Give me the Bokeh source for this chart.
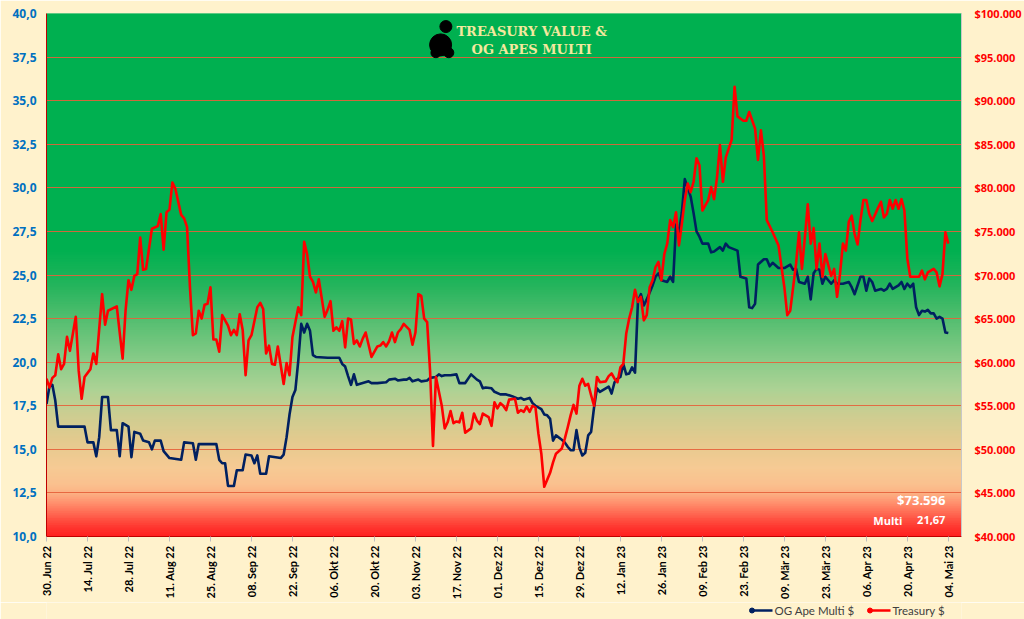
import numpy as np
import pandas as pd
from bokeh.plotting import figure
from bokeh.layouts import column
from bokeh.models import (Range1d, LinearAxis, FixedTicker, Label, ColumnDataSource)
from bokeh.embed import file_html
from bokeh.resources import INLINE
from bokeh.core.properties import value

# ---------------- data ----------------
start_date = "2022-06-30"

# OG Ape Multi (left axis), day offsets from start_date
multi_day = [0, 1, 2, 3, 4, 7, 13, 14, 16, 17, 18, 19, 21, 22, 24, 25, 26, 28, 29, 30,
             32, 33, 35, 36, 37, 39, 40, 42, 46, 47, 50, 51, 52, 58, 59, 60, 61, 62, 64, 65,
             67, 68, 70, 71, 72, 73, 75, 76, 80, 81, 82, 83, 84, 85, 86, 87, 88, 89, 90, 91,
             92, 96, 100, 101, 102, 103, 104, 105, 106, 108, 110, 111, 113, 116, 117, 119, 120, 122, 123, 124,
             125, 127, 128, 130, 131, 133, 134, 135, 136, 138, 140, 141, 143, 145, 147, 148, 149, 150, 152, 153,
             155, 157, 159, 161, 162, 163, 165, 166, 167, 169, 170, 171, 172, 173, 174, 176, 177, 178, 179, 180,
             181, 182, 183, 184, 185, 186, 187, 188, 189, 191, 192, 193, 194, 195, 196, 197, 198, 199, 200, 201,
             202, 203, 204, 205, 207, 208, 209, 210, 212, 213, 214, 215, 216, 217, 218, 219, 220, 221, 222, 223,
             224, 226, 227, 228, 230, 231, 232, 233, 236, 237, 239, 240, 241, 242, 243, 245, 246, 247, 248, 250,
             252, 254, 255, 256, 257, 259, 260, 261, 262, 263, 264, 265, 266, 268, 269, 270, 271, 272, 274, 275,
             276, 278, 279, 280, 281, 282, 283, 285, 286, 287, 288, 289, 291, 292, 293, 294, 295, 296, 297, 298,
             299, 300, 301, 302, 303, 304, 305, 306, 307, 308]
multi_value = [17.6, 18.6, 18.7, 17.8, 16.3, 16.3, 16.3, 15.4, 15.4, 14.6, 15.7, 18.0, 18.0, 16.1, 16.1, 14.6, 16.5, 16.3, 14.55, 16.0,
               15.9, 15.5, 15.4, 15.0, 15.5, 15.5, 14.9, 14.5, 14.4, 15.4, 15.35, 14.4, 15.3, 15.3, 14.4, 14.2, 14.2, 12.9, 12.9, 13.8,
               13.8, 14.7, 14.65, 14.2, 14.65, 13.6, 13.6, 14.6, 14.5, 14.7, 15.7, 17.0, 18.0, 18.4, 20.1, 22.2, 21.7, 22.2, 21.8, 20.4,
               20.3, 20.25, 20.25, 19.9, 19.75, 19.2, 18.7, 19.3, 18.7, 18.8, 18.9, 18.8, 18.8, 18.85, 19.0, 19.05, 18.95, 19.0, 19.0, 19.1,
               18.9, 19.0, 18.9, 18.95, 19.1, 19.15, 19.3, 19.2, 19.25, 19.25, 19.3, 18.8, 18.8, 19.3, 19.0, 18.9, 18.5, 18.55, 18.5, 18.3,
               18.15, 18.15, 18.05, 17.9, 17.95, 17.85, 17.95, 17.65, 17.5, 17.3, 17.0, 16.95, 16.75, 15.5, 15.8, 15.55, 15.4, 15.15, 14.95, 14.95,
               16.1, 15.1, 14.65, 14.8, 15.8, 16.0, 17.4, 18.5, 18.3, 18.5, 18.6, 18.2, 18.85, 19.05, 19.15, 19.9, 19.3, 19.35, 19.7, 19.4,
               23.5, 23.9, 23.25, 23.6, 24.4, 24.9, 25.1, 24.7, 24.6, 24.9, 24.6, 27.9, 27.4, 28.6, 30.5, 30.0, 29.5, 28.55, 27.5, 27.2,
               26.8, 26.8, 26.3, 26.35, 26.6, 26.4, 26.8, 26.6, 26.4, 24.9, 24.8, 23.15, 23.1, 23.35, 25.6, 25.9, 25.9, 25.5, 25.7, 25.4,
               25.4, 25.6, 25.3, 25.35, 24.6, 24.5, 24.9, 23.6, 25.1, 25.35, 25.3, 24.5, 24.9, 24.5, 24.7, 24.5, 24.5, 24.5, 24.6, 24.3,
               23.9, 24.9, 24.9, 24.1, 24.8, 24.6, 24.1, 24.2, 24.1, 24.2, 24.5, 24.2, 24.4, 24.6, 24.2, 24.5, 24.3, 24.5, 23.15, 22.7,
               22.95, 22.9, 23.0, 22.8, 22.8, 22.5, 22.6, 22.5, 21.7, 21.67]

# Treasury in USD (right axis), day offsets from start_date
treasury_day = [0, 1, 2, 3, 4, 5, 6, 7, 8, 10, 11, 12, 13, 15, 16, 17, 19, 20, 21, 24,
                26, 27, 28, 29, 30, 31, 32, 33, 34, 36, 38, 39, 40, 41, 42, 43, 44, 46, 47, 48,
                49, 50, 51, 52, 53, 54, 55, 56, 57, 58, 59, 60, 62, 63, 64, 65, 66, 67, 68, 69,
                70, 72, 73, 74, 75, 76, 77, 78, 79, 81, 82, 83, 84, 86, 87, 88, 89, 90, 91, 92,
                93, 95, 96, 97, 98, 99, 100, 101, 102, 103, 104, 105, 106, 107, 108, 109, 111, 113, 114, 115,
                116, 117, 118, 119, 120, 121, 122, 124, 125, 126, 127, 128, 129, 130, 131, 132, 133, 135, 136, 137,
                138, 139, 140, 141, 142, 143, 145, 146, 147, 148, 149, 151, 152, 153, 154, 155, 156, 157, 158, 160,
                161, 162, 163, 164, 165, 166, 167, 168, 169, 170, 172, 173, 174, 176, 177, 178, 179, 180, 181, 182,
                183, 184, 185, 186, 187, 188, 189, 191, 192, 193, 194, 195, 196, 197, 198, 199, 200, 201, 202, 203,
                204, 205, 206, 207, 208, 209, 210, 211, 212, 213, 214, 215, 216, 217, 218, 219, 220, 221, 222, 223,
                224, 226, 227, 228, 229, 230, 231, 232, 234, 235, 236, 238, 239, 240, 242, 243, 244, 245, 246, 248,
                250, 252, 253, 254, 256, 257, 258, 259, 260, 261, 262, 263, 264, 265, 266, 268, 269, 270, 271, 272,
                273, 274, 275, 276, 277, 278, 279, 280, 281, 282, 284, 285, 286, 287, 288, 289, 290, 291, 292, 293,
                294, 295, 297, 298, 299, 300, 301, 303, 304, 305, 306, 307, 308]
treasury_value = [58100, 57100, 58200, 58500, 60900, 59200, 59800, 62900, 61300, 65200, 59000, 55800, 58300, 59200, 61000, 59800, 67800, 64300, 65900, 66400,
                  60400, 65900, 69400, 68300, 69900, 70100, 74300, 70600, 70700, 75300, 75600, 77000, 72900, 77200, 77500, 80600, 79900, 76900, 76500, 75500,
                  68600, 63100, 63300, 65900, 65000, 66600, 66700, 68600, 62600, 62600, 61200, 65400, 64200, 63100, 63700, 63100, 65500, 63700, 58500, 62500,
                  63100, 66300, 66800, 66100, 61000, 61900, 59800, 59700, 61800, 57500, 59900, 58500, 62900, 66300, 65400, 73800, 72400, 69800, 69200, 68000,
                  69500, 65200, 66000, 67000, 63600, 64000, 63600, 64700, 61700, 65000, 64900, 62100, 62500, 61800, 62700, 63400, 60600, 61800, 61900, 62300,
                  61800, 62400, 63400, 62300, 63400, 63800, 64400, 63700, 62000, 63400, 67800, 67600, 65000, 64600, 59000, 50400, 58300, 55000, 52400, 53100,
                  54400, 53000, 53200, 53100, 54200, 51900, 52400, 54100, 53300, 52900, 54100, 53700, 52700, 55400, 54700, 55300, 55000, 54500, 55700, 55800,
                  54200, 54500, 54300, 54900, 54300, 55000, 54800, 51800, 49500, 45700, 47300, 48500, 49500, 50100, 51200, 52500, 53900, 55100, 54100, 57300,
                  58100, 57300, 57500, 56200, 55000, 58300, 57700, 57800, 58400, 58700, 58100, 57700, 59400, 59800, 63300, 65000, 66300, 68300, 66900, 67500,
                  64800, 65400, 68600, 69400, 70900, 71500, 69400, 72400, 73600, 76300, 75500, 77200, 73400, 75900, 78600, 80500, 79500, 80700, 83400, 82600,
                  77400, 78600, 80100, 78700, 81200, 84900, 80700, 83500, 85500, 91600, 88200, 87700, 87700, 88700, 86800, 83200, 86600, 83700, 76300, 74900,
                  73400, 68600, 65400, 65900, 71300, 74900, 70700, 74300, 78100, 73600, 75400, 70700, 73600, 69800, 72400, 69900, 70700, 67500, 70100, 73600,
                  72800, 76100, 76800, 74700, 73500, 76300, 78600, 78600, 77000, 76200, 77700, 78400, 76600, 77000, 78600, 77600, 78600, 77600, 78700, 77400,
                  71900, 69800, 69800, 69800, 70500, 69500, 70300, 70700, 70300, 68700, 70100, 74900, 73596]

x_tick_day = [0, 14, 28, 42, 56, 70, 84, 98, 112, 126, 140, 154, 168, 182, 196, 210,
              224, 238, 252, 266, 280, 294, 308]
x_tick_labels = ["30. Jun 22", "14. Jul 22", "28. Jul 22", "11. Aug 22", "25. Aug 22",
                 "08. Sep 22", "22. Sep 22", "06. Okt 22", "20. Okt 22", "03. Nov 22",
                 "17. Nov 22", "01. Dez 22", "15. Dez 22", "29. Dez 22", "12. Jan 23",
                 "26. Jan 23", "09. Feb 23", "23. Feb 23", "09. Mär 23", "23. Mär 23",
                 "06. Apr 23", "20. Apr 23", "04. Mai 23"]
left_ticks = [10.0, 12.5, 15.0, 17.5, 20.0, 22.5, 25.0, 27.5, 30.0, 32.5, 35.0, 37.5, 40.0]
left_tick_labels = ["10,0", "12,5", "15,0", "17,5", "20,0", "22,5", "25,0", "27,5",
                    "30,0", "32,5", "35,0", "37,5", "40,0"]
right_ticks = [40000, 45000, 50000, 55000, 60000, 65000, 70000, 75000, 80000, 85000,
               90000, 95000, 100000]
right_tick_labels = ["$40.000", "$45.000", "$50.000", "$55.000", "$60.000", "$65.000",
                     "$70.000", "$75.000", "$80.000", "$85.000", "$90.000", "$95.000",
                     "$100.000"]
series_names = ["OG Ape Multi $", "Treasury $"]
title_lines = ["TREASURY VALUE &", "OG APES MULTI"]
last_treasury_text = "$73.596"
last_multi_text = "21,67"

# ---------------- helpers ----------------
DAY_MS = 86400000.0
T0_MS = pd.Timestamp(start_date).value / 1e6


def to_ms(d):
    return T0_MS + d * DAY_MS


X_END = 312.5

CREAM = "#FFF2CC"
BLUE = "#002060"
RED = "#FF0000"

FRAME_L, FRAME_W = 46, 915

p = figure(frame_width=FRAME_W, frame_height=523, x_axis_type="datetime",
           x_range=Range1d(to_ms(0), to_ms(X_END)), y_range=Range1d(10, 40),
           output_backend="svg", toolbar_location=None,
           min_border_left=FRAME_L, min_border_right=63, min_border_top=13, min_border_bottom=64,
           background_fill_color=CREAM, border_fill_color=CREAM, outline_line_color=None)
p.extra_y_ranges = {"treasury": Range1d(40000, 100000)}

# ---------------- gradient background ----------------
stop_v = [10.0, 10.5, 11.0, 12.0, 12.5, 13.0, 14.0, 15.5, 17.0, 18.5, 20.0, 22.5, 24.5, 26.5, 40.0]
stop_rgb = [(255, 30, 30), (255, 50, 45), (255, 80, 65), (255, 145, 110), (252, 175, 130),
            (250, 192, 142), (246, 202, 148), (228, 202, 142), (205, 205, 145), (172, 210, 148),
            (140, 204, 138), (84, 190, 112), (35, 180, 92), (0, 176, 80), (0, 176, 80)]
edges = np.linspace(10, 40, 301)
mids = (edges[:-1] + edges[1:]) / 2
cols = []
for m in mids:
    r = np.interp(m, stop_v, [c[0] for c in stop_rgb])
    g = np.interp(m, stop_v, [c[1] for c in stop_rgb])
    b = np.interp(m, stop_v, [c[2] for c in stop_rgb])
    cols.append("#%02x%02x%02x" % (int(round(r)), int(round(g)), int(round(b))))
bg_src = ColumnDataSource(dict(bottom=edges[:-1], top=edges[1:], color=cols))
bg = p.quad(left=to_ms(0), right=to_ms(X_END), bottom="bottom", top="top",
            fill_color="color", line_color="color", line_width=1.6, source=bg_src)
bg.level = "image"

# ---------------- grid & axes ----------------
p.xgrid.visible = False
p.ygrid.ticker = FixedTicker(ticks=left_ticks)
p.ygrid.grid_line_color = "#E5603A"
p.ygrid.grid_line_alpha = 0.9
p.ygrid.grid_line_width = 1

ya = p.yaxis[0]
ya.ticker = FixedTicker(ticks=left_ticks)
ya.major_label_overrides = dict(zip(left_ticks, left_tick_labels))
ya.axis_line_color = "#C00000"
ya.major_tick_line_color = None
ya.major_tick_out = 0
ya.major_tick_in = 0
ya.minor_tick_line_color = None
ya.minor_tick_out = 0
ya.major_label_standoff = 10
ya.major_label_text_color = "#0070C0"
ya.major_label_text_font = "Open Sans"
ya.major_label_text_font_style = "bold"
ya.major_label_text_font_size = "12px"

ra = LinearAxis(y_range_name="treasury", ticker=FixedTicker(ticks=right_ticks),
                major_label_overrides=dict(zip(right_ticks, right_tick_labels)))
ra.axis_line_color = "#C8C8C8"
ra.major_tick_line_color = None
ra.major_tick_out = 0
ra.major_tick_in = 0
ra.minor_tick_line_color = None
ra.minor_tick_out = 0
ra.major_label_standoff = 13
ra.major_label_text_color = RED
ra.major_label_text_font = "Open Sans"
ra.major_label_text_font_style = "bold"
ra.major_label_text_font_size = "11px"
p.add_layout(ra, "right")

xa = p.xaxis[0]
x_ticks_ms = [to_ms(d) for d in x_tick_day]
xa.ticker = FixedTicker(ticks=x_ticks_ms)
xa.major_label_overrides = dict(zip(x_ticks_ms, x_tick_labels))
xa.major_label_orientation = np.pi / 2
xa.axis_line_color = "#C00000"
xa.major_tick_line_color = "#BFBFBF"
xa.major_tick_in = 0
xa.major_tick_out = 5
xa.minor_tick_line_color = None
xa.major_label_standoff = 4
xa.major_label_text_color = "#000000"
xa.major_label_text_font = "Lato"
xa.major_label_text_font_style = "bold"
xa.major_label_text_font_size = "11px"

# ---------------- series ----------------
multi_src = ColumnDataSource(dict(x=[to_ms(d) for d in multi_day], y=multi_value))
treas_src = ColumnDataSource(dict(x=[to_ms(d) for d in treasury_day], y=treasury_value))

blue_line = p.line("x", "y", source=multi_src, line_color=BLUE, line_width=2.6,
                   line_join="round")
red_line = p.line("x", "y", source=treas_src, line_color=RED, line_width=2.6,
                  line_join="round", y_range_name="treasury")

# ---------------- title ----------------
title_x = to_ms(165.7)
for txt, yv in zip(title_lines, [38.95, 37.93]):
    p.add_layout(Label(x=title_x, y=yv, text=txt, text_align="center", text_baseline="middle",
                       text_font="DejaVu Serif", text_font_style="bold",
                       text_font_size="13px", text_color="#F4E89E"))

# simple dark ape silhouette next to the title
p.scatter(x=[to_ms(134.6), to_ms(136.4), to_ms(133.0), to_ms(137.4)],
          y=[38.2, 39.25, 37.75, 37.75], marker="circle",
          size=[22, 12, 10, 10], color="#000000")

# ---------------- last values ----------------
p.add_layout(Label(x=to_ms(307.0), y=12.07, text=last_treasury_text, text_align="right",
                   text_baseline="middle", text_font="Open Sans", text_font_style="bold",
                   text_font_size="13px", text_color="#FFFFFF"))
p.add_layout(Label(x=to_ms(282.4), y=10.92, text="Multi", text_align="left",
                   text_baseline="middle", text_font="Open Sans", text_font_style="bold",
                   text_font_size="11px", text_color="#FFFFFF"))
p.add_layout(Label(x=to_ms(307.0), y=10.92, text=last_multi_text, text_align="right",
                   text_baseline="middle", text_font="Open Sans", text_font_style="bold",
                   text_font_size="11px", text_color="#FFFFFF"))

# ---------------- legend strip below the chart ----------------
# the strip's frame is aligned with the chart's frame by the column layout,
# so its x range is expressed in page pixels of that frame
lg = figure(width=1024, height=19, x_range=Range1d(FRAME_L, FRAME_L + FRAME_W),
            y_range=Range1d(0, 19),
            output_backend="svg", toolbar_location=None, min_border=0,
            min_border_left=FRAME_L, min_border_right=63,
            x_axis_location=None, y_axis_location=None,
            background_fill_color=CREAM, border_fill_color=CREAM, outline_line_color=None)
lg.grid.visible = False
key_x0 = [750, 868]
key_colors = [BLUE, RED]
for x0, c, name in zip(key_x0, key_colors, series_names):
    lg.line(x=[x0, x0 + 22], y=[11, 11], line_color=c, line_width=2.6)
    lg.scatter(x=[x0 + 1.5], y=[11], marker="circle", size=5, color=c)
    lg.text(x=[x0 + 24], y=[11], text=[name], text_baseline="middle", text_align="left",
            text_font=value("Lato"), text_font_size="11.5px", text_color="#404040")

layout = column(p, lg, spacing=0)

html = file_html(layout, INLINE)
html = html.replace("<body>", '<body style="margin:0;background-color:#FFF2CC;">', 1)
open("out.html", "w").write(html)
